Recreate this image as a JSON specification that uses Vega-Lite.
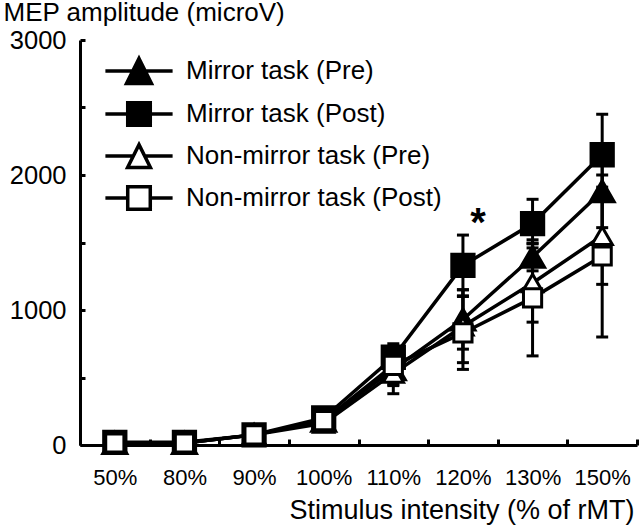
{
  "$schema": "https://vega.github.io/schema/vega-lite/v6.json",
  "width": 557,
  "height": 405,
  "autosize": "none",
  "padding": {"left": 80, "top": 40, "right": 3, "bottom": 84},
  "background": "white",
  "config": {
    "font": "Liberation Sans",
    "view": {"stroke": null},
    "axis": {
      "domainColor": "black", "domainWidth": 3, "tickColor": "black", "tickWidth": 3,
      "labelColor": "black", "titleColor": "black", "grid": false,
      "labelFont": "Liberation Sans", "titleFont": "Liberation Sans",
      "labelFontSize": 25.5, "titleFontSize": 26, "titleFontWeight": "normal"
    },
    "legend": {
      "orient": "none", "legendX": 45, "legendY": 17,
      "labelFontSize": 26, "labelFont": "Liberation Sans", "labelColor": "black",
      "labelOffset": 33, "labelLimit": 0, "symbolSize": 576, "rowPadding": 4, "padding": 0,
      "symbolStrokeWidth": 3.5, "symbolStrokeColor": "black"
    }
  },
  "data": {
    "values": [
      {"x": "50%", "s": "Mirror task (Pre)", "v": 15, "lo": 0, "hi": 35},
      {"x": "80%", "s": "Mirror task (Pre)", "v": 15, "lo": 0, "hi": 35},
      {"x": "90%", "s": "Mirror task (Pre)", "v": 75, "lo": 50, "hi": 100},
      {"x": "100%", "s": "Mirror task (Pre)", "v": 180, "lo": 140, "hi": 220},
      {"x": "110%", "s": "Mirror task (Pre)", "v": 560, "lo": 440, "hi": 680},
      {"x": "120%", "s": "Mirror task (Pre)", "v": 930, "lo": 710, "hi": 1150},
      {"x": "130%", "s": "Mirror task (Pre)", "v": 1393, "lo": 1290, "hi": 1495},
      {"x": "150%", "s": "Mirror task (Pre)", "v": 1880, "lo": 1610, "hi": 2150},
      {"x": "50%", "s": "Mirror task (Post)", "v": 20, "lo": 0, "hi": 40},
      {"x": "80%", "s": "Mirror task (Post)", "v": 20, "lo": 0, "hi": 40},
      {"x": "90%", "s": "Mirror task (Post)", "v": 75, "lo": 50, "hi": 100},
      {"x": "100%", "s": "Mirror task (Post)", "v": 200, "lo": 160, "hi": 240},
      {"x": "110%", "s": "Mirror task (Post)", "v": 650, "lo": 550, "hi": 750},
      {"x": "120%", "s": "Mirror task (Post)", "v": 1330, "lo": 1105, "hi": 1555},
      {"x": "130%", "s": "Mirror task (Post)", "v": 1640, "lo": 1460, "hi": 1820},
      {"x": "150%", "s": "Mirror task (Post)", "v": 2150, "lo": 1850, "hi": 2450},
      {"x": "50%", "s": "Non-mirror task (Pre)", "v": 15, "lo": 0, "hi": 35},
      {"x": "80%", "s": "Non-mirror task (Pre)", "v": 15, "lo": 0, "hi": 35},
      {"x": "90%", "s": "Non-mirror task (Pre)", "v": 75, "lo": 50, "hi": 100},
      {"x": "100%", "s": "Non-mirror task (Pre)", "v": 160, "lo": 120, "hi": 200},
      {"x": "110%", "s": "Non-mirror task (Pre)", "v": 530, "lo": 380, "hi": 680},
      {"x": "120%", "s": "Non-mirror task (Pre)", "v": 880, "lo": 610, "hi": 1150},
      {"x": "130%", "s": "Non-mirror task (Pre)", "v": 1200, "lo": 910, "hi": 1490},
      {"x": "150%", "s": "Non-mirror task (Pre)", "v": 1550, "lo": 1190, "hi": 1910},
      {"x": "50%", "s": "Non-mirror task (Post)", "v": 15, "lo": 0, "hi": 35},
      {"x": "80%", "s": "Non-mirror task (Post)", "v": 15, "lo": 0, "hi": 35},
      {"x": "90%", "s": "Non-mirror task (Post)", "v": 75, "lo": 50, "hi": 100},
      {"x": "100%", "s": "Non-mirror task (Post)", "v": 180, "lo": 140, "hi": 220},
      {"x": "110%", "s": "Non-mirror task (Post)", "v": 590, "lo": 450, "hi": 730},
      {"x": "120%", "s": "Non-mirror task (Post)", "v": 830, "lo": 560, "hi": 1100},
      {"x": "130%", "s": "Non-mirror task (Post)", "v": 1090, "lo": 660, "hi": 1520},
      {"x": "150%", "s": "Non-mirror task (Post)", "v": 1400, "lo": 800, "hi": 2000}
    ]
  },
  "encoding": {
    "x": {
      "field": "x", "type": "ordinal",
      "sort": ["50%", "80%", "90%", "100%", "110%", "120%", "130%", "150%"],
      "scale": {"type": "band", "paddingInner": 0, "paddingOuter": 0},
      "axis": {
        "tickBand": "extent", "tickSize": -6, "labelPadding": 28, "labelAngle": 0,
        "labelFontSize": 22, "titleFontSize": 27,
        "title": "Stimulus intensity (% of rMT)", "titleAlign": "right", "titleAnchor": "end",
        "titleX": 554, "titleY": 73, "titleBaseline": "alphabetic"
      }
    }
  },
  "layer": [
    {
      "mark": {"type": "rule", "color": "black", "strokeWidth": 3},
      "encoding": {
        "y": {"field": "lo", "type": "quantitative"},
        "y2": {"field": "hi"},
        "detail": {"field": "s"}
      }
    },
    {
      "mark": {"type": "tick", "color": "black", "thickness": 3, "size": 12, "opacity": 1},
      "encoding": {"y": {"field": "lo", "type": "quantitative"}, "detail": {"field": "s"}}
    },
    {
      "mark": {"type": "tick", "color": "black", "thickness": 3, "size": 12, "opacity": 1},
      "encoding": {"y": {"field": "hi", "type": "quantitative"}, "detail": {"field": "s"}}
    },
    {
      "mark": {"type": "line", "color": "black", "strokeWidth": 3.5},
      "encoding": {
        "y": {"field": "v", "type": "quantitative"},
        "detail": {"field": "s"}
      }
    },
    {
      "mark": {"type": "point", "filled": true, "stroke": "black", "strokeWidth": 3, "opacity": 1},
      "encoding": {
        "y": {
          "field": "v", "type": "quantitative",
          "scale": {"domain": [0, 3000]},
          "axis": {
            "values": [0, 500, 1000, 1500, 2000, 2500, 3000], "format": "d",
            "labelExpr": "datum.value % 1000 === 0 ? datum.label : ''",
            "tickSize": -5, "labelPadding": 19,
            "title": "MEP amplitude (microV)", "titleAngle": 0, "titleAlign": "left",
            "titleBaseline": "alphabetic", "titleX": -77, "titleY": -20
          }
        },
        "shape": {
          "field": "s", "type": "nominal",
          "scale": {
            "domain": ["Mirror task (Pre)", "Mirror task (Post)", "Non-mirror task (Pre)", "Non-mirror task (Post)"],
            "range": ["triangle-up", "square", "triangle-up", "square"]
          },
          "legend": null
        },
        "fill": {
          "field": "s", "type": "nominal",
          "scale": {
            "domain": ["Mirror task (Pre)", "Mirror task (Post)", "Non-mirror task (Pre)", "Non-mirror task (Post)"],
            "range": ["black", "black", "white", "white"]
          },
          "legend": null
        },
        "size": {
          "field": "s", "type": "nominal",
          "scale": {
            "domain": ["Mirror task (Pre)", "Mirror task (Post)", "Non-mirror task (Pre)", "Non-mirror task (Post)"],
            "range": [580, 330, 500, 330]
          },
          "legend": null
        }
      }
    },
    {
      "data": {
        "values": [
          {"x": "50%", "s": "Mirror task (Pre)", "v": -600},
          {"x": "50%", "s": "Mirror task (Post)", "v": -600},
          {"x": "50%", "s": "Non-mirror task (Pre)", "v": -600},
          {"x": "50%", "s": "Non-mirror task (Post)", "v": -600}
        ]
      },
      "mark": {"type": "point", "filled": true, "strokeWidth": 3.5, "opacity": 1, "clip": true},
      "encoding": {
        "y": {"field": "v", "type": "quantitative"},
        "shape": {
          "field": "s", "type": "nominal",
          "scale": {
            "domain": ["Mirror task (Pre)", "Mirror task (Post)", "Non-mirror task (Pre)", "Non-mirror task (Post)"],
            "range": [
              "M-2.8,0H-0.52M0.52,0H2.8M0,-1.04L1.04,1.04H-1.04Z",
              "M-2.8,0H-0.94M0.94,0H2.8M-0.94,-0.94H0.94V0.94H-0.94Z",
              "M-2.8,0H-0.5M0.5,0H2.8M0,-0.95L0.95,0.95H-0.95Z",
              "M-2.8,0H-0.94M0.94,0H2.8M-0.94,-0.94H0.94V0.94H-0.94Z"
            ]
          },
          "legend": {"title": null}
        },
        "fill": {
          "field": "s", "type": "nominal",
          "scale": {
            "domain": ["Mirror task (Pre)", "Mirror task (Post)", "Non-mirror task (Pre)", "Non-mirror task (Post)"],
            "range": ["black", "black", "white", "white"]
          },
          "legend": {"title": null}
        },
        "stroke": {
          "field": "s", "type": "nominal",
          "scale": {
            "domain": ["Mirror task (Pre)", "Mirror task (Post)", "Non-mirror task (Pre)", "Non-mirror task (Post)"],
            "range": ["black", "black", "black", "black"]
          },
          "legend": {"title": null}
        }
      }
    },
    {
      "data": {"values": [{"x": "120%", "y": 1640, "t": "*"}]},
      "mark": {"type": "text", "fontSize": 40, "fontWeight": "bold", "dx": 15, "baseline": "middle", "color": "black", "font": "Liberation Sans"},
      "encoding": {
        "y": {"field": "y", "type": "quantitative"},
        "text": {"field": "t"}
      }
    }
  ],
  "resolve": {"scale": {"shape": "independent", "fill": "independent", "size": "independent", "stroke": "independent"}}
}
